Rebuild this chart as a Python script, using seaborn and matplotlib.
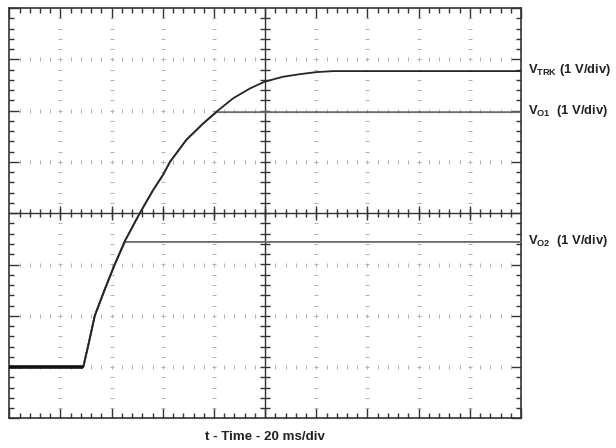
import numpy as np
import pandas as pd
import matplotlib
matplotlib.use("Agg")
import matplotlib.pyplot as plt
import seaborn as sns

# time in divisions (20 ms/div), voltages in divisions (1 V/div)
time = [0, 1.445, 1.56, 1.67, 1.86, 2.06, 2.26, 2.55, 2.81, 3.0, 3.14, 3.46, 3.79, 4.05,
        4.375, 4.70, 4.98, 5.35, 5.68, 6.0, 6.33, 10]
v_trk = [1, 1, 1.5, 2, 2.5, 3, 3.46, 4, 4.45, 4.74, 5, 5.43, 5.75, 5.98,
         6.24, 6.43, 6.56, 6.66, 6.71, 6.75, 6.77, 6.77]
v_o1 = [1, 1, 1.5, 2, 2.5, 3, 3.46, 4, 4.45, 4.74, 5, 5.43, 5.75, 5.97,
        5.97, 5.97, 5.97, 5.97, 5.97, 5.97, 5.97, 5.97]
v_o2 = [1, 1, 1.5, 2, 2.5, 3, 3.44, 3.44, 3.44, 3.44, 3.44, 3.44, 3.44, 3.44,
        3.44, 3.44, 3.44, 3.44, 3.44, 3.44, 3.44, 3.44]
labels = ["V$_{\\mathbf{TRK}}$ (1 V/div)", "V$_{\\mathbf{O1}}$  (1 V/div)", "V$_{\\mathbf{O2}}$  (1 V/div)"]
x_label = "t - Time - 20 ms/div"

sns.set_style("white")
plt.rcParams["font.family"] = ["Liberation Sans", "DejaVu Sans"]
plt.rcParams["mathtext.fontset"] = "custom"
plt.rcParams["mathtext.rm"] = "Liberation Sans:bold"
plt.rcParams["mathtext.bf"] = "Liberation Sans:bold"
plt.rcParams["mathtext.it"] = "Liberation Sans:bold"

fig = plt.figure(figsize=(6.16, 4.48), dpi=100)
ax = fig.add_axes([9.3 / 616, 1 - 418.4 / 448, 511.7 / 616, 410.4 / 448])

df = pd.DataFrame({"t": time, "trk": v_trk, "o1": v_o1, "o2": v_o2})

# dotted graticule
for gx in range(1, 10):
    if gx == 5:
        continue
    ys = np.arange(0.2, 8, 0.2)
    ax.plot([gx] * len(ys), ys, ls="none", marker="_", ms=3, mew=0.7, color="#b0b0b0", zorder=1)
for gy in range(1, 8):
    if gy == 4:
        continue
    xs = np.arange(0.2, 10, 0.2)
    ax.plot(xs, [gy] * len(xs), ls="none", marker="|", ms=3, mew=0.7, color="#b0b0b0", zorder=1)

# center axes with ticks
ax.axhline(4, color="#333333", lw=1.0, zorder=2)
ax.axvline(5, color="#333333", lw=1.0, zorder=2)
xm = np.arange(0.2, 10, 0.2)
ax.plot(xm, [4] * len(xm), ls="none", marker="|", ms=6, mew=1.0, color="#333333", zorder=2)
ym = np.arange(0.2, 8, 0.2)
ax.plot([5] * len(ym), ym, ls="none", marker="_", ms=7, mew=1.0, color="#333333", zorder=2)
xM = np.arange(1, 10, 1)
ax.plot(xM, [4] * len(xM), ls="none", marker="|", ms=10, mew=1.0, color="#333333", zorder=2)

sns.lineplot(data=df, x="t", y="o2", color="#6a6a6a", lw=1.3, ax=ax, zorder=3)
sns.lineplot(data=df, x="t", y="o1", color="#6a6a6a", lw=1.3, ax=ax, zorder=3)
sns.lineplot(data=df, x="t", y="trk", color="#262626", lw=1.3, ax=ax, zorder=4)
ax.plot(time[:2], v_trk[:2], color="#111111", lw=2.6, solid_capstyle="butt", zorder=5)

ax.set_xlim(0, 10)
ax.set_ylim(0, 8)
ax.set_xticks(np.arange(0, 11, 1))
ax.set_yticks(np.arange(0, 9, 1))
ax.set_xticks(np.arange(0, 10.01, 0.2), minor=True)
ax.set_yticks(np.arange(0, 8.01, 0.2), minor=True)
ax.tick_params(which="both", direction="in", top=True, right=True, bottom=True, left=True,
               labelbottom=False, labelleft=False, color="#333333", width=1.0)
ax.tick_params(which="major", length=7.5)
ax.tick_params(which="minor", length=3.6)
for s in ax.spines.values():
    s.set_color("#333333")
    s.set_linewidth(1.2)

ax.set_xlabel(x_label, fontsize=9.6, fontweight="bold", color="#222222", labelpad=9)
ax.set_ylabel("")

for lab, yv in zip(labels, [v_trk[-1], v_o1[-1], v_o2[-1]]):
    ax.text(10.13, yv + 0.02, lab, fontsize=9.4, fontweight="bold", color="#222222",
            va="center", ha="left", clip_on=False)

fig.savefig("out.png", dpi=100)
